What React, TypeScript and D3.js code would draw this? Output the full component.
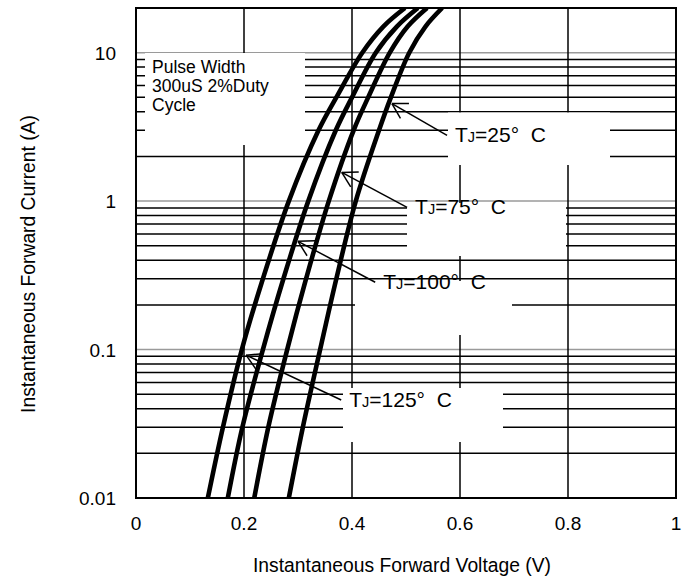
import * as d3 from "d3";
import { useEffect, useRef } from "react";

// forward current points (A) at which the curves were read
const currents = [0.01, 0.03, 0.1, 0.3, 1, 3, 5, 10, 15, 20];
// forward voltage (V) per junction temperature
const vf125 = [0.133, 0.161, 0.196, 0.235, 0.283, 0.338, 0.371, 0.419, 0.458, 0.498];
const vf100 = [0.17, 0.197, 0.235, 0.273, 0.319, 0.37, 0.4, 0.444, 0.483, 0.522];
const vf75 = [0.219, 0.245, 0.28, 0.315, 0.357, 0.403, 0.43, 0.47, 0.503, 0.539];
const vf25 = [0.283, 0.309, 0.341, 0.371, 0.407, 0.45, 0.472, 0.506, 0.536, 0.567];

const xTicks = [0, 0.2, 0.4, 0.6, 0.8, 1];
const yTicks = [0.01, 0.1, 1, 10];
const majorLines = [10, 1, 0.1];
const minorLines = [
  0.02, 0.03, 0.04, 0.05, 0.06, 0.07, 0.08, 0.09,
  0.2, 0.3, 0.4, 0.5, 0.6, 0.7, 0.8, 0.9,
  2, 3, 4, 5, 6, 7, 8, 9,
];

// temperature labels: arrow tip and tail in data units (V, A)
const tempLabels = [
  { temp: "25", tip: [0.474, 4.54], tail: [0.576, 2.77] },
  { temp: "75", tip: [0.381, 1.56], tail: [0.502, 0.908] },
  { temp: "100", tip: [0.3, 0.536], tail: [0.443, 0.284] },
  { temp: "125", tip: [0.204, 0.0917], tail: [0.38, 0.0457] },
];

const App = () => {
  const svgRef = useRef<SVGSVGElement>(null);

  useEffect(() => {
    const svg = d3.select(svgRef.current);
    svg.selectAll("*").remove();

    const left = 136, right = 676, top = 8, bottom = 498;
    const font = "'Liberation Sans', Arial, sans-serif";

    const x = d3.scaleLinear().domain([0, 1]).range([left, right]);
    const y = d3.scaleLog().domain([0.01, 20]).range([bottom, top]);

    svg.append("rect").attr("width", 694).attr("height", 582).attr("fill", "#fff");

    // grid
    const grid = svg.append("g");
    grid.selectAll(".minor").data(minorLines).join("line")
      .attr("x1", left).attr("x2", right)
      .attr("y1", (d) => y(d)).attr("y2", (d) => y(d))
      .attr("stroke", "#000").attr("stroke-width", 1.5);
    grid.selectAll(".major").data(majorLines).join("line")
      .attr("x1", left).attr("x2", right)
      .attr("y1", (d) => y(d)).attr("y2", (d) => y(d))
      .attr("stroke", "#9a9a9a").attr("stroke-width", 1.5);
    grid.selectAll(".vert").data(xTicks.slice(1, -1)).join("line")
      .attr("x1", (d) => x(d)).attr("x2", (d) => x(d))
      .attr("y1", top).attr("y2", bottom)
      .attr("stroke", "#000").attr("stroke-width", 1.5);

    // white label boxes covering the grid
    const boxes = [
      [145, 53, 305, 145],
      [448, 112.5, 610, 165],
      [407, 203, 566, 256],
      [355, 281, 512, 335],
      [343, 388, 503, 442],
    ];
    svg.selectAll(".box").data(boxes).join("rect")
      .attr("x", (d) => d[0]).attr("y", (d) => d[1])
      .attr("width", (d) => d[2] - d[0]).attr("height", (d) => d[3] - d[1])
      .attr("fill", "#fff");

    // curves
    svg.append("defs").append("clipPath").attr("id", "plot")
      .append("rect").attr("x", left).attr("y", top)
      .attr("width", right - left).attr("height", bottom - top);

    const line = d3.line<number>()
      .x((d) => x(d))
      .y((_, i) => y(currents[i]))
      .curve(d3.curveCatmullRom);

    svg.append("g").attr("clip-path", "url(#plot)")
      .selectAll("path").data([vf125, vf100, vf75, vf25]).join("path")
      .attr("d", (d) => line(d))
      .attr("fill", "none").attr("stroke", "#000")
      .attr("stroke-width", 4.6);

    // frame
    svg.append("rect")
      .attr("x", left).attr("y", top)
      .attr("width", right - left).attr("height", bottom - top)
      .attr("fill", "none").attr("stroke", "#000").attr("stroke-width", 2);

    // arrows + temperature labels
    tempLabels.forEach((l) => {
      const tx = x(l.tip[0]), ty = y(l.tip[1]);
      const ex = x(l.tail[0]), ey = y(l.tail[1]);
      const a = Math.atan2(ey - ty, ex - tx);
      const len = 17, spread = Math.PI / 6;
      const g = svg.append("g").attr("stroke", "#000").attr("stroke-width", 1.5)
        .attr("fill", "none");
      g.append("line").attr("x1", tx).attr("y1", ty).attr("x2", ex).attr("y2", ey);
      [a - spread, a + spread].forEach((b) => {
        g.append("line").attr("x1", tx).attr("y1", ty)
          .attr("x2", tx + len * Math.cos(b)).attr("y2", ty + len * Math.sin(b));
      });

      const t = svg.append("text")
        .attr("x", ex + 8).attr("y", ey + 7)
        .attr("font-family", font).attr("font-size", 21)
        .attr("fill", "#000").style("white-space", "pre");
      t.append("tspan").text("T");
      t.append("tspan").attr("font-size", 14.5).text("J");
      t.append("tspan").text(`=${l.temp}°  C`);
    });

    // pulse note
    const note = ["Pulse Width", "300uS 2%Duty", "Cycle"];
    svg.selectAll(".note").data(note).join("text")
      .attr("x", 152).attr("y", (_, i) => 73 + i * 19)
      .attr("font-family", font).attr("font-size", 17.5)
      .attr("fill", "#000").text((d) => d);

    // tick labels
    svg.selectAll(".xt").data(xTicks).join("text")
      .attr("x", (d) => x(d)).attr("y", 530)
      .attr("text-anchor", "middle")
      .attr("font-family", font).attr("font-size", 19)
      .text((d) => String(d));
    svg.selectAll(".yt").data(yTicks).join("text")
      .attr("x", 116).attr("y", (d) => y(d) + 7)
      .attr("text-anchor", "end")
      .attr("font-family", font).attr("font-size", 19)
      .text((d) => String(d));

    // axis titles
    svg.append("text")
      .attr("x", 402).attr("y", 572).attr("text-anchor", "middle")
      .attr("font-family", font).attr("font-size", 19.3)
      .text("Instantaneous Forward Voltage (V)");
    svg.append("text")
      .attr("transform", "translate(35,264) rotate(-90)")
      .attr("text-anchor", "middle")
      .attr("font-family", font).attr("font-size", 19.3)
      .text("Instantaneous Forward Current (A)");
  }, []);

  return (
    <svg
      ref={svgRef}
      width={694}
      height={582}
      style={{ position: "absolute", left: 0, top: 0 }}
    />
  );
};

export default App;
